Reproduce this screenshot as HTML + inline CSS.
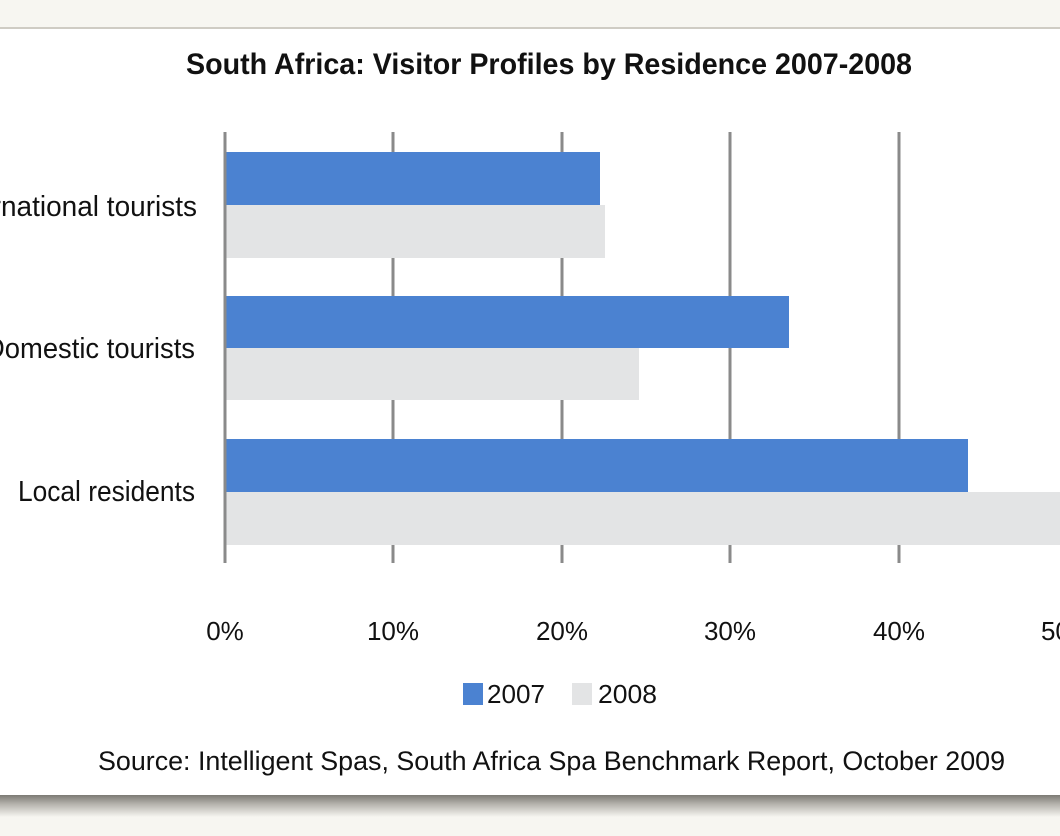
<!DOCTYPE html>
<html><head><style>
html,body{margin:0;padding:0;background:#f7f6f1;}
svg{display:block;}
text{font-family:"Liberation Sans Narrow","Liberation Sans",sans-serif;fill:#111;}
</style></head><body>
<svg width="1060" height="836" viewBox="0 0 1060 836" xmlns="http://www.w3.org/2000/svg">
<defs>
<linearGradient id="sh" x1="0" y1="0" x2="0" y2="1">
<stop offset="0" stop-color="#7c7a74"/><stop offset="0.4" stop-color="#b3b1ab"/><stop offset="1" stop-color="#f7f6f1"/>
</linearGradient>
</defs>
<rect x="0" y="0" width="1060" height="836" fill="#f7f6f1"/>
<rect x="0" y="27" width="1060" height="2" fill="#cfccc4"/>
<rect x="0" y="29" width="1060" height="766" fill="#fff"/>
<rect x="0" y="795" width="1060" height="22" fill="url(#sh)"/>
<text x="549" y="74" text-anchor="middle" font-size="30" font-weight="bold" textLength="726" lengthAdjust="spacingAndGlyphs">South Africa:  Visitor Profiles by Residence 2007-2008</text>
<g stroke="#8a8a8a" stroke-width="3">
<line x1="393" y1="132" x2="393" y2="563"/>
<line x1="562" y1="132" x2="562" y2="563"/>
<line x1="730" y1="132" x2="730" y2="563"/>
<line x1="899" y1="132" x2="899" y2="563"/>
</g>
<rect x="226" y="152" width="374" height="53" fill="#4b82d1"/>
<rect x="226" y="205" width="379" height="53" fill="#e3e4e5"/>
<rect x="226" y="296" width="563" height="52" fill="#4b82d1"/>
<rect x="226" y="348" width="413" height="52" fill="#e3e4e5"/>
<rect x="226" y="439" width="742" height="53" fill="#4b82d1"/>
<rect x="226" y="492" width="840" height="53" fill="#e3e4e5"/>
<line x1="225" y1="132" x2="225" y2="563" stroke="#8a8a8a" stroke-width="3"/>
<g font-size="29" text-anchor="end">
<text x="197" y="216" textLength="252" lengthAdjust="spacingAndGlyphs">International tourists</text>
<text x="195" y="358" textLength="210" lengthAdjust="spacingAndGlyphs">Domestic tourists</text>
<text x="195" y="501" textLength="177" lengthAdjust="spacingAndGlyphs">Local residents</text>
</g>
<g font-size="26" text-anchor="middle">
<text x="225" y="640">0%</text>
<text x="393" y="640">10%</text>
<text x="562" y="640">20%</text>
<text x="730" y="640">30%</text>
<text x="899" y="640">40%</text>
<text x="1067" y="640">50%</text>
</g>
<rect x="463" y="683" width="20" height="22" fill="#4b82d1"/>
<text x="487" y="703" font-size="26" textLength="58" lengthAdjust="spacingAndGlyphs">2007</text>
<rect x="572" y="683" width="20" height="22" fill="#e3e4e5"/>
<text x="598" y="703" font-size="26" textLength="59" lengthAdjust="spacingAndGlyphs">2008</text>
<text x="98" y="770" font-size="27" textLength="907" lengthAdjust="spacingAndGlyphs">Source: Intelligent Spas, South Africa Spa Benchmark Report, October 2009</text>
</svg>
</body></html>
